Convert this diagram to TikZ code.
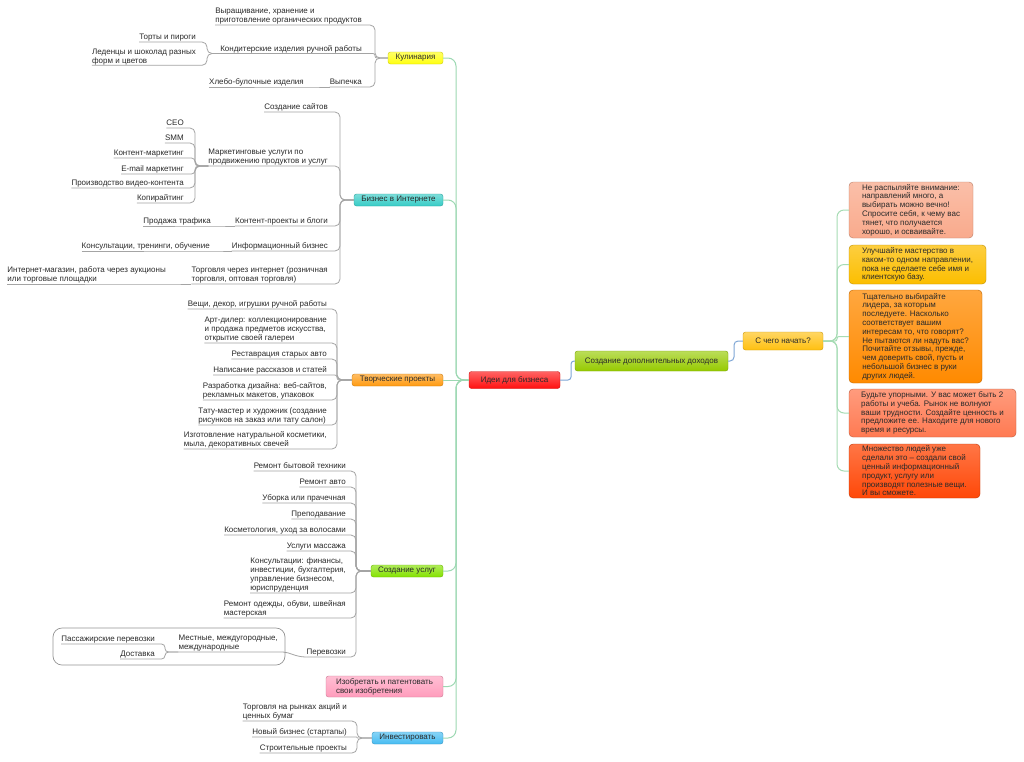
\documentclass[tikz,border=0pt]{standalone}
\usepackage{fontspec}
\setmainfont{Liberation Sans}
\newcommand\myfs{\fontsize{8}{9}\selectfont}
\newcommand\myfsb{\fontsize{8}{8.8}\selectfont}
\definecolor{txt}{HTML}{2A2A2A}
\definecolor{subc}{HTML}{A4A4A4}
\definecolor{trc}{HTML}{9CD8B2}
\definecolor{blc}{HTML}{7FA7D6}
\definecolor{rgc}{HTML}{A6DCB4}
\definecolor{kulc}{HTML}{FFFF10}
\definecolor{inetc}{HTML}{36CCC6}
\definecolor{tvorc}{HTML}{FF9A10}
\definecolor{uslc}{HTML}{84E200}
\definecolor{izobc}{HTML}{FF9CBC}
\definecolor{invc}{HTML}{46BCF2}
\definecolor{rootc}{HTML}{FF1010}
\definecolor{dopc}{HTML}{96CA00}
\definecolor{startc}{HTML}{FFC010}
\definecolor{bac}{HTML}{F9AA8C}
\definecolor{bbc}{HTML}{FCBE00}
\definecolor{bcc}{HTML}{FF8A00}
\definecolor{bdc}{HTML}{FF7A52}
\definecolor{bec}{HTML}{FF4808}
\begin{document}
\begin{tikzpicture}[x=1pt,y=-1pt,
  lbl/.style={anchor=south east,inner xsep=0pt,inner ysep=0pt,align=left,font=\myfs,text=txt,execute at end node={\rule[-1.9pt]{0pt}{1pt}}},
  sub/.style={draw=subc,line width=0.8pt,rounded corners=5pt},
  tr/.style={draw=trc,line width=1pt,rounded corners=8pt},
  bl/.style={draw=blc,line width=1pt},
  rg/.style={draw=rgc,line width=1pt,rounded corners=7pt},
  mb/.style={rectangle,rounded corners=2.5pt,inner sep=0pt,font=\myfs,text=txt,top color=#1!65!white,bottom color=#1,draw=#1!80!black,line width=0.4pt,align=center,minimum height=12pt},
  rb/.style={rectangle,rounded corners=4pt,inner sep=0pt,font=\myfsb,text=txt,top color=#1!75!white,bottom color=#1,draw=#1!75!black,line width=0.4pt,align=left},
  bnd/.style={draw=subc!90!black,line width=0.7pt,rounded corners=9pt}
]
\fill[white] (0,0) rectangle (1024,761);
\useasboundingbox (0,0) rectangle (1024,761);

% ---------- center ----------
\node[mb=rootc,minimum width=91pt,minimum height=17pt] (root) at (514.5,380) {Идеи для бизнеса};
\node[mb=dopc,minimum width=153pt,minimum height=20pt] (dop) at (651.5,361) {Создание дополнительных доходов};
\node[mb=startc,minimum width=80pt,minimum height=18pt] (start) at (783,341) {С чего начать?};
\coordinate (cj1) at (571,380);
\coordinate (cj2) at (734,361);
\draw[bl,rounded corners=3pt] (root.east) -- (cj1) |- (dop.west);
\draw[bl,rounded corners=4pt] (dop.east) -- (cj2) |- (start.west);

% ---------- right boxes ----------
\node[rb=bac,minimum width=124pt,minimum height=56pt] (b1) at (911,210) {Не распыляйте внимание:\\направлений много, а\\выбирать можно вечно!\\Спросите себя, к чему вас\\тянет, что получается\\хорошо, и осваивайте.};
\node[rb=bbc,minimum width=137pt,minimum height=39pt] (b2) at (917.5,264.5) {Улучшайте мастерство в\\каком-то одном направлении,\\пока не сделаете себе имя и\\клиентскую базу.};
\node[rb=bcc,minimum width=133pt,minimum height=93pt] (b3) at (915.5,336.5) {Тщательно выбирайте\\лидера, за которым\\последуете. Насколько\\соответствует вашим\\интересам то, что говорят?\\Не пытаются ли надуть вас?\\Почитайте отзывы, прежде,\\чем доверить свой, пусть и\\небольшой бизнес в руки\\других людей.};
\node[rb=bdc,minimum width=167pt,minimum height=48pt] (b4) at (932.5,413) {Будьте упорными. У вас может быть 2\\работы и учеба. Рынок не волнуют\\ваши трудности. Создайте ценность и\\предложите ее. Находите для нового\\время и ресурсы.};
\node[rb=bec,minimum width=131pt,minimum height=54pt] (b5) at (914.5,471) {Множество людей уже\\сделали это – создали свой\\ценный информационный\\продукт, услугу или\\производят полезные вещи.\\И вы сможете.};
\coordinate (rj) at (837,341);
\draw[rg] (start.east) -- (rj) |- (b1.west);
\draw[rg] (start.east) -- (rj) |- (b2.west);
\draw[rg,rounded corners=2pt] (start.east) -- (rj) |- (b3.west);
\draw[rg] (start.east) -- (rj) |- (b4.west);
\draw[rg] (start.east) -- (rj) |- (b5.west);

% ---------- main branches ----------
\node[mb=kulc,minimum width=55pt] (kul) at (415.5,58) {Кулинария};
\node[mb=inetc,minimum width=89pt] (inet) at (398.5,200) {Бизнес в Интернете};
\node[mb=tvorc,minimum width=91pt] (tvor) at (397.5,380) {Творческие проекты};
\node[mb=uslc,minimum width=72pt] (usl) at (407,571) {Создание услуг};
\node[mb=izobc,minimum width=117pt,minimum height=21pt,align=left] (izob) at (384.5,686.5) {Изобретать и патентовать\\свои изобретения};
\node[mb=invc,minimum width=71pt] (inv) at (407.5,738) {Инвестировать};
\coordinate (trunk) at (456,380);
\draw[tr] (kul.east) -| (trunk) -- (root.west);
\draw[tr] (inet.east) -| (trunk) -- (root.west);
\draw[tr] (tvor.east) -- (root.west);
\draw[tr] (usl.east) -| (trunk) -- (root.west);
\draw[tr] (izob.east) -| (trunk) -- (root.west);
\draw[tr] (inv.east) -| (trunk) -- (root.west);

% ---------- Кулинария ----------
\node[lbl] (k1) at (362,25) {Выращивание, хранение и\\приготовление органических продуктов};
\node[lbl] (k2) at (362,53.5) {Кондитерские изделия ручной работы};
\node[lbl] (k3) at (362,87) {Выпечка};
\coordinate (kj) at (375,58);
\draw[sub] (k1.south west) -- (k1.south east) -| (kj) -- (kul.west);
\draw[sub,rounded corners=2pt] (k2.south west) -- (k2.south east) -| (kj) -- (kul.west);
\draw[sub] (k3.south west) -- (k3.south east) -| (kj) -- (kul.west);
\node[lbl] (k21) at (196,42) {Торты и пироги};
\node[lbl] (k22) at (196,65.3) {Леденцы и шоколад разных\\форм и цветов};
\coordinate (k2j) at (207,53.5);
\draw[sub] (k21.south west) -- (k21.south east) -| (k2j) -- (k2.south west);
\draw[sub] (k22.south west) -- (k22.south east) -| (k2j) -- (k2.south west);
\node[lbl] (k31) at (304,87) {Хлебо-булочные изделия};
\draw[sub] (k31.south west) -- (k31.south east) -- (k3.south west);

% ---------- Бизнес в Интернете ----------
\node[lbl] (i1) at (328,112) {Создание сайтов};
\node[lbl] (i2) at (328,166) {Маркетинговые услуги по\\продвижению продуктов и услуг};
\node[lbl] (i3) at (328,226) {Контент-проекты и блоги};
\node[lbl] (i4) at (328,251) {Информационный бизнес};
\node[lbl] (i5) at (328,284) {Торговля через интернет (розничная\\торговля, оптовая торговля)};
\coordinate (ij) at (340,200);
\foreach \n in {i1,i2,i3,i4,i5}
  \draw[sub] (\n.south west) -- (\n.south east) -| (ij) -- (inet.west);
\node[lbl] (m1) at (184,128) {CEO};
\node[lbl] (m2) at (184,143) {SMM};
\node[lbl] (m3) at (184,158) {Контент-маркетинг};
\node[lbl] (m4) at (184,174) {E-mail маркетинг};
\node[lbl] (m5) at (184,188) {Производство видео-контента};
\node[lbl] (m6) at (184,203) {Копирайтинг};
\coordinate (mj) at (195,166);
\draw[sub] (m1.south west) -- (m1.south east) -| (mj) -- (i2.south west);
\draw[sub] (m2.south west) -- (m2.south east) -| (mj) -- (i2.south west);
\draw[sub,rounded corners=3.5pt] (m3.south west) -- (m3.south east) -| (mj) -- (i2.south west);
\draw[sub,rounded corners=3.5pt] (m4.south west) -- (m4.south east) -| (mj) -- (i2.south west);
\draw[sub] (m5.south west) -- (m5.south east) -| (mj) -- (i2.south west);
\draw[sub] (m6.south west) -- (m6.south east) -| (mj) -- (i2.south west);
\node[lbl] (i31) at (211,226) {Продажа трафика};
\draw[sub] (i31.south west) -- (i31.south east) -- (i3.south west);
\node[lbl] (i41) at (210,251) {Консультации, тренинги, обучение};
\draw[sub] (i41.south west) -- (i41.south east) -- (i4.south west);
\node[lbl] (i51) at (166,284) {Интернет-магазин, работа через аукционы\\или торговые площадки};
\draw[sub] (i51.south west) -- (i51.south east) -- (i5.south west);

% ---------- Творческие проекты ----------
\node[lbl] (c1) at (327,309) {Вещи, декор, игрушки ручной работы};
\node[lbl] (c2) at (327,343) {Арт-дилер: коллекционирование\\и продажа предметов искусства,\\открытие своей галереи};
\node[lbl] (c3) at (327,359) {Реставрация старых авто};
\node[lbl] (c4) at (327,375) {Написание рассказов и статей};
\node[lbl] (c5) at (327,400) {Разработка дизайна: веб-сайтов,\\рекламных макетов, упаковок};
\node[lbl] (c6) at (327,425) {Тату-мастер и художник (создание\\рисунков на заказ или тату салон)};
\node[lbl] (c7) at (327,449) {Изготовление натуральной косметики,\\мыла, декоративных свечей};
\coordinate (tj) at (337,380);
\foreach \n in {c1,c2,c3,c5,c6,c7}
  \draw[sub] (\n.south west) -- (\n.south east) -| (tj) -- (tvor.west);
\draw[sub,rounded corners=2.2pt] (c4.south west) -- (c4.south east) -| (tj) -- (tvor.west);

% ---------- Создание услуг ----------
\node[lbl] (u1) at (346,471) {Ремонт бытовой техники};
\node[lbl] (u2) at (346,487) {Ремонт авто};
\node[lbl] (u3) at (346,503) {Уборка или прачечная};
\node[lbl] (u4) at (346,519) {Преподавание};
\node[lbl] (u5) at (346,535) {Косметология, уход за волосами};
\node[lbl] (u6) at (346,551) {Услуги массажа};
\node[lbl] (u7) at (346,593) {Консультации: финансы,\\инвестиции, бухгалтерия,\\управление бизнесом,\\юриспруденция};
\node[lbl] (u8) at (346,618) {Ремонт одежды, обуви, швейная\\мастерская};
\node[lbl] (u9) at (346,657) {Перевозки};
\coordinate (uj) at (356,571);
\foreach \n in {u1,u2,u3,u4,u5,u6,u7,u8,u9}
  \draw[sub] (\n.south west) -- (\n.south east) -| (uj) -- (usl.west);
\node[lbl] (p1) at (278,652) {Местные, междугородные,\\международные};
\draw[sub] (p1.south west) -- (p1.south east) to[out=0,in=180] (u9.south west);
\node[lbl] (q1) at (155,644) {Пассажирские перевозки};
\node[lbl] (q2) at (155,659) {Доставка};
\coordinate (pj) at (165,652);
\draw[sub,rounded corners=3.5pt] (q1.south west) -- (q1.south east) -| (pj) -- (p1.south west);
\draw[sub,rounded corners=3.5pt] (q2.south west) -- (q2.south east) -| (pj) -- (p1.south west);
\draw[bnd] (53,628) rectangle (285,665);

% ---------- Инвестировать ----------
\node[lbl] (v1) at (347,721) {Торговля на рынках акций и\\ценных бумаг};
\node[lbl] (v2) at (347,737) {Новый бизнес (стартапы)};
\node[lbl] (v3) at (347,753) {Строительные проекты};
\coordinate (vj) at (357,738);
\draw[sub] (v1.south west) -- (v1.south east) -| (vj) -- (inv.west);
\draw[sub,rounded corners=0.4pt] (v2.south west) -- (v2.south east) -| (vj) -- (inv.west);
\draw[sub] (v3.south west) -- (v3.south east) -| (vj) -- (inv.west);
\end{tikzpicture}
\end{document}
